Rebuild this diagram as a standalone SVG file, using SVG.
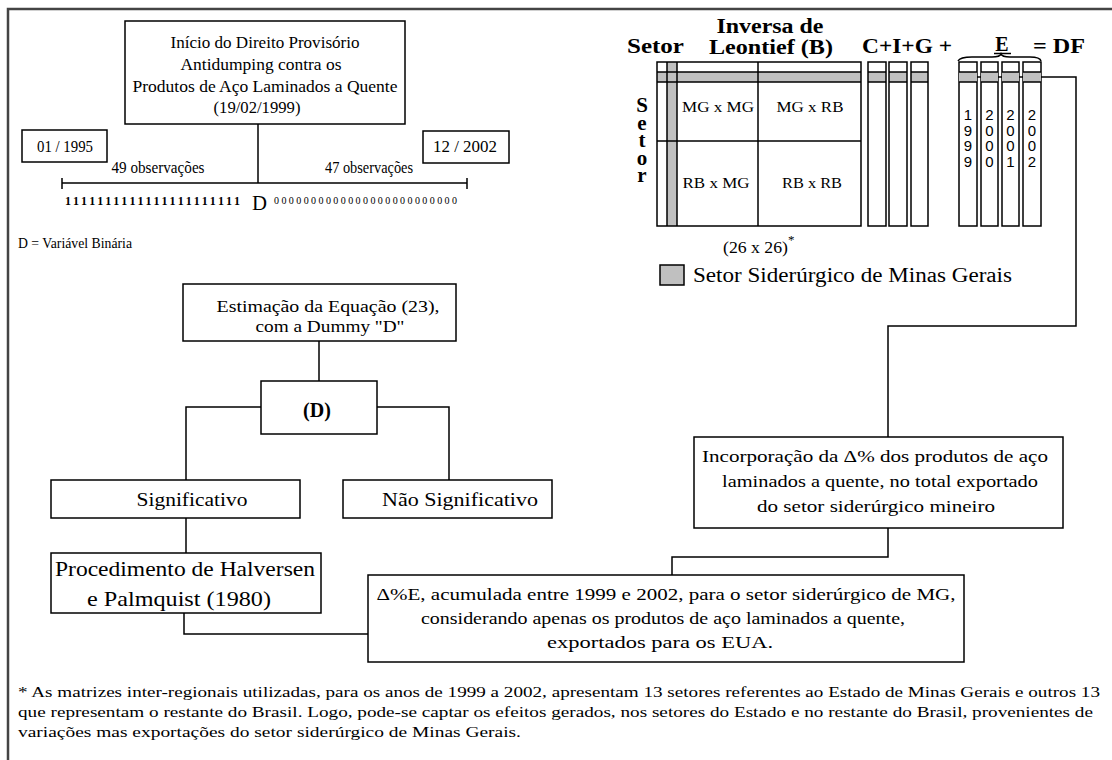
<svg xmlns="http://www.w3.org/2000/svg" width="1112" height="760" viewBox="0 0 1112 760">
<style>
.t{font-family:"Liberation Serif","Times New Roman",serif;fill:#000}
.b{font-weight:bold}
.s{font-family:"Liberation Sans",Arial,sans-serif;fill:#000}
.box{fill:#fff;stroke:#000;stroke-width:1.5}
.ln{fill:none;stroke:#000;stroke-width:1.5}
.g{fill:#c0c0c0}
.m{text-anchor:middle}
.v{writing-mode:vertical-rl;text-orientation:upright}
</style>
<rect x="0" y="0" width="1112" height="760" fill="#fff"/>
<rect x="8" y="9" width="1130" height="780" fill="none" stroke="#444" stroke-width="2.5"/>

<g id="connectors" class="ln">
  <path d="M258,124 V183"/>
  <path d="M62,183 H467 M62,178 V189 M467,178 V189"/>
  <path d="M319,341 V381"/>
  <path d="M261,407 H186 V480"/>
  <path d="M377,407 H449 V480"/>
  <path d="M186,518 V553"/>
  <path d="M184,613 V634 H368"/>
  <path d="M977,77 H1076 V326 H888 V437"/>
  <path d="M888,528 V557 H672 V575"/>
</g>

<g id="node-inicio">
  <rect class="box" x="125" y="21" width="280" height="103"/>
  <text class="t m" font-size="17" x="265" y="48" textLength="189" lengthAdjust="spacingAndGlyphs">Início do Direito Provisório</text>
  <text class="t m" font-size="17" x="261" y="70" textLength="161" lengthAdjust="spacingAndGlyphs">Antidumping contra os</text>
  <text class="t m" font-size="17" x="265" y="92" textLength="265" lengthAdjust="spacingAndGlyphs">Produtos de Aço Laminados a Quente</text>
  <text class="t m" font-size="17" x="257" y="113" textLength="87" lengthAdjust="spacingAndGlyphs">(19/02/1999)</text>
</g>

<g id="node-1995">
  <rect class="box" x="22" y="130" width="85" height="32"/>
  <text class="t m" font-size="17" x="65" y="152" textLength="56" lengthAdjust="spacingAndGlyphs">01 / 1995</text>
</g>
<g id="node-2002">
  <rect class="box" x="423" y="131" width="86" height="32"/>
  <text class="t m" font-size="17" x="465" y="152" textLength="64" lengthAdjust="spacingAndGlyphs">12 / 2002</text>
</g>

<g id="timeline-labels">
  <text class="t m" font-size="16" x="158" y="173" textLength="93" lengthAdjust="spacingAndGlyphs">49 observações</text>
  <text class="t m" font-size="16" x="369" y="173" textLength="88" lengthAdjust="spacingAndGlyphs">47 observações</text>
  <text class="t b" font-size="12" x="65" y="205" textLength="175" lengthAdjust="spacing">1111111111111111111111</text>
  <text class="t" font-size="21" x="252" y="210" textLength="15" lengthAdjust="spacingAndGlyphs">D</text>
  <text class="t" font-size="10" x="274" y="204" textLength="183" lengthAdjust="spacing">0000000000000000000000000</text>
  <text class="t" font-size="15" x="18" y="248" textLength="114" lengthAdjust="spacingAndGlyphs">D = Variável Binária</text>
</g>

<g id="matrix">
  <text class="t b" font-size="21" x="627" y="53" textLength="57" lengthAdjust="spacingAndGlyphs">Setor</text>
  <text class="t b m" font-size="20" x="770" y="33" textLength="107" lengthAdjust="spacingAndGlyphs">Inversa de</text>
  <text class="t b m" font-size="20" x="771" y="54" textLength="124" lengthAdjust="spacingAndGlyphs">Leontief (B)</text>
  <text class="t b v" font-size="21" letter-spacing="-6.5" x="642" y="93">Setor</text>
  <rect x="657" y="62" width="204" height="164" fill="#fff"/>
  <rect class="g" x="667" y="62" width="10" height="164"/>
  <rect class="g" x="657" y="72" width="204" height="10"/>
  <path class="ln" d="M657,62 H861 V226 H657 Z M667,62 V226 M677,62 V226 M657,72 H861 M657,82 H861 M758,62 V226 M657,141 H861"/>
  <text class="t m" font-size="15" x="718" y="112" textLength="72" lengthAdjust="spacingAndGlyphs">MG x MG</text>
  <text class="t m" font-size="15" x="810" y="112" textLength="67" lengthAdjust="spacingAndGlyphs">MG x RB</text>
  <text class="t m" font-size="15" x="716" y="188" textLength="67" lengthAdjust="spacingAndGlyphs">RB x MG</text>
  <text class="t m" font-size="15" x="812" y="188" textLength="60" lengthAdjust="spacingAndGlyphs">RB x RB</text>
  <text class="t" font-size="17" x="723" y="253" textLength="65" lengthAdjust="spacingAndGlyphs">(26 x 26)</text>
  <text class="t" font-size="13" x="788" y="244">*</text>
</g>

<g id="cig">
  <text class="t b" font-size="20" x="862" y="53" textLength="90" lengthAdjust="spacingAndGlyphs">C+I+G +</text>
  <rect class="g" x="868" y="72" width="18" height="10"/>
  <rect class="g" x="889" y="72" width="18" height="10"/>
  <rect class="g" x="911" y="72" width="17" height="10"/>
  <path class="ln" d="M868,62 H886 V226 H868 Z M868,72 H886 M868,82 H886 M889,62 H907 V226 H889 Z M889,72 H907 M889,82 H907 M911,62 H928 V226 H911 Z M911,72 H928 M911,82 H928"/>
</g>

<g id="exports">
  <text class="t b m" font-size="20" x="1002" y="51">E</text>
  <path class="ln" d="M994,53.5 H1011" stroke-width="1.2"/>
  <path class="ln" d="M958,61 Q960,57 972,57 H992 Q1000,57 1001,54 Q1002,57 1010,57 H1030 Q1040,57 1041,61" stroke-width="1.2"/>
  <text class="t b" font-size="20" x="1033" y="53" textLength="52" lengthAdjust="spacingAndGlyphs">= DF</text>
  <rect class="box" x="959" y="62" width="18" height="164"/>
  <rect class="box" x="981" y="62" width="17" height="164"/>
  <rect class="box" x="1002" y="62" width="17" height="164"/>
  <rect class="box" x="1023" y="62" width="18" height="164"/>
  <rect class="g" x="959" y="72" width="18" height="10"/>
  <rect class="g" x="981" y="72" width="17" height="10"/>
  <rect class="g" x="1002" y="72" width="17" height="10"/>
  <rect class="g" x="1023" y="72" width="18" height="10"/>
  <path class="ln" d="M959,72 H977 M959,82 H977 M981,72 H998 M981,82 H998 M1002,72 H1019 M1002,82 H1019 M1023,72 H1041 M1023,82 H1041"/>
  <text class="s v" font-size="15" letter-spacing="-1.5" x="968" y="106">1999</text>
  <text class="s v" font-size="15" letter-spacing="-1.5" x="989.5" y="106">2000</text>
  <text class="s v" font-size="15" letter-spacing="-1.5" x="1010.5" y="106">2001</text>
  <text class="s v" font-size="15" letter-spacing="-1.5" x="1032" y="106">2002</text>
</g>

<g id="legend">
  <rect class="g" x="660" y="265" width="24" height="20" stroke="#000" stroke-width="1.5"/>
  <text class="t" font-size="20" x="693" y="282" textLength="319" lengthAdjust="spacingAndGlyphs">Setor Siderúrgico de Minas Gerais</text>
</g>

<g id="node-estimacao">
  <rect class="box" x="183" y="284" width="273" height="57"/>
  <text class="t m" font-size="17" x="328" y="312" textLength="223" lengthAdjust="spacingAndGlyphs">Estimação da Equação (23),</text>
  <text class="t m" font-size="17" x="330" y="332" textLength="149" lengthAdjust="spacingAndGlyphs">com a Dummy "D"</text>
</g>

<g id="node-d">
  <rect class="box" x="261" y="381" width="116" height="53"/>
  <text class="t b m" font-size="20" x="317" y="417">(D)</text>
</g>

<g id="node-significativo">
  <rect class="box" x="51" y="480" width="249" height="38"/>
  <text class="t m" font-size="19" x="192" y="506" textLength="111" lengthAdjust="spacingAndGlyphs">Significativo</text>
</g>

<g id="node-nao-significativo">
  <rect class="box" x="343" y="480" width="209" height="38"/>
  <text class="t m" font-size="19" x="460" y="506" textLength="156" lengthAdjust="spacingAndGlyphs">Não Significativo</text>
</g>

<g id="node-halversen">
  <rect class="box" x="51" y="553" width="270" height="60"/>
  <text class="t m" font-size="21" x="185" y="576" textLength="260" lengthAdjust="spacingAndGlyphs">Procedimento de Halversen</text>
  <text class="t m" font-size="21" x="179" y="606" textLength="184" lengthAdjust="spacingAndGlyphs">e Palmquist (1980)</text>
</g>

<g id="node-incorporacao">
  <rect class="box" x="694" y="437" width="369" height="91"/>
  <text class="t m" font-size="17" x="875" y="462" textLength="346" lengthAdjust="spacingAndGlyphs">Incorporação da Δ% dos produtos de aço</text>
  <text class="t m" font-size="17" x="880" y="487" textLength="316" lengthAdjust="spacingAndGlyphs">laminados a quente, no total exportado</text>
  <text class="t m" font-size="17" x="876" y="512" textLength="238" lengthAdjust="spacingAndGlyphs">do setor siderúrgico mineiro</text>
</g>

<g id="node-delta">
  <rect class="box" x="368" y="575" width="596" height="87"/>
  <text class="t m" font-size="16" x="666" y="600" textLength="579" lengthAdjust="spacingAndGlyphs">Δ%E, acumulada entre 1999 e 2002, para o setor siderúrgico de MG,</text>
  <text class="t m" font-size="16" x="663" y="624" textLength="484" lengthAdjust="spacingAndGlyphs">considerando apenas os produtos de aço laminados a quente,</text>
  <text class="t m" font-size="16" x="660" y="648" textLength="226" lengthAdjust="spacingAndGlyphs">exportados para os EUA.</text>
</g>

<g id="footnote">
  <text class="t" font-size="15" x="18" y="697" textLength="1082" lengthAdjust="spacingAndGlyphs">* As matrizes inter-regionais utilizadas, para os anos de 1999 a 2002, apresentam 13 setores  referentes ao Estado de Minas Gerais e outros 13</text>
  <text class="t" font-size="15" x="18" y="717" textLength="1075" lengthAdjust="spacingAndGlyphs">que  representam o restante do Brasil. Logo, pode-se  captar os efeitos gerados, nos  setores do Estado e no restante do Brasil, provenientes de</text>
  <text class="t" font-size="15" x="18" y="737" textLength="503" lengthAdjust="spacingAndGlyphs">variações mas exportações do setor siderúrgico de Minas Gerais.</text>
</g>
</svg>
